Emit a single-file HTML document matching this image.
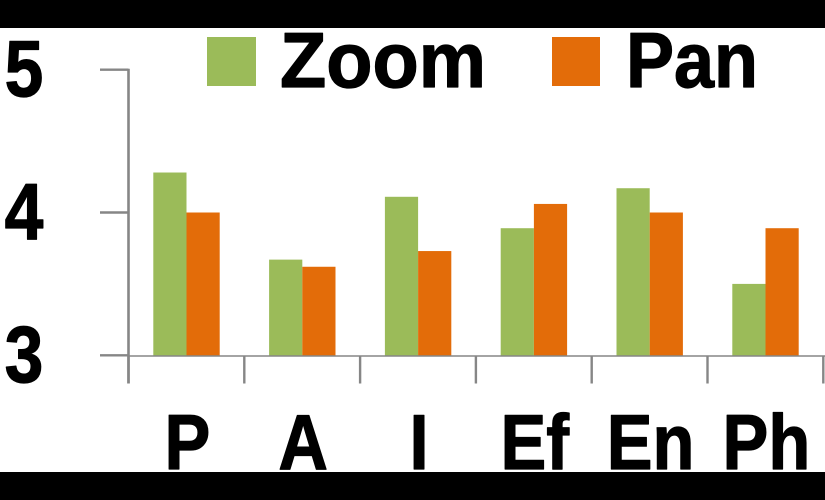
<!DOCTYPE html>
<html>
<head>
<meta charset="utf-8">
<style>
html,body{margin:0;padding:0;background:#fff;}
svg{display:block;}
text{font-family:"Liberation Sans",sans-serif;font-weight:700;fill:#000;stroke:#000;stroke-width:1.2;stroke-linejoin:round;}
</style>
</head>
<body>
<svg id="chart" xmlns="http://www.w3.org/2000/svg" width="825" height="500" viewBox="0 0 825 500">
  <rect x="0" y="0" width="825" height="500" fill="#ffffff"/>
  <rect x="0" y="0" width="825" height="28" fill="#000000"/>
  <rect x="0" y="472" width="825" height="28" fill="#000000"/>
  <g>
    <rect x="207" y="37" width="49" height="49" fill="#9BBB59"/>
    <text x="280" y="87" font-size="78" textLength="206" lengthAdjust="spacingAndGlyphs">Zoom</text>
    <rect x="552" y="37" width="48" height="49" fill="#E36C09"/>
    <text x="626" y="87" font-size="78" textLength="132" lengthAdjust="spacingAndGlyphs">Pan</text>
  </g>
  <g id="bars"></g>
  <g id="axes"></g>
</svg>
<script>
const categories = ['P', 'A', 'I', 'Ef', 'En', 'Ph'];
const zoomValues = [4.28, 3.67, 4.11, 3.89, 4.17, 3.5];
const panValues = [4.0, 3.62, 3.73, 4.06, 4.0, 3.89];
const yTicks = [3, 4, 5];

const NS = 'http://www.w3.org/2000/svg';
const barsLayer = document.getElementById('bars');
const axesLayer = document.getElementById('axes');
const axisColor = '#868686';
const plotLeft = 128.5;
const catWidth = 115.8;
const barWidth = 33.2;
const barOffset = 24.8;
const baseY = 356;

function yScale(v) { return 355.3 - (v - 3) * 142.8; }
function xBand(i) { return plotLeft + i * catWidth; }

function make(tag, attrs) {
  const el = document.createElementNS(NS, tag);
  Object.keys(attrs).forEach(function (k) { el.setAttribute(k, attrs[k]); });
  return el;
}

function drawBar(i, value, seriesIndex, color, seriesName) {
  const top = yScale(value);
  const bar = make('rect', {
    x: xBand(i) + barOffset + seriesIndex * barWidth,
    y: top,
    width: barWidth,
    height: Math.max(0, baseY - top),
    fill: color
  });
  
  
  barsLayer.appendChild(bar);
}

categories.forEach(function (c, i) {
  drawBar(i, zoomValues[i], 0, '#9BBB59', 'zoom');
  drawBar(i, panValues[i], 1, '#E36C09', 'pan');
});

const yAxisLine = make('line', { x1: plotLeft, x2: plotLeft, y1: yScale(5) - 1, y2: 383.5, stroke: axisColor, 'stroke-width': 2.6 });


axesLayer.appendChild(yAxisLine);

const xAxisLine = make('line', { x1: plotLeft, x2: 825, y1: baseY, y2: baseY, stroke: axisColor, 'stroke-width': 1.6 });


axesLayer.appendChild(xAxisLine);

yTicks.forEach(function (t) {
  const y = yScale(t);
  const tick = make('line', { x1: 100, x2: plotLeft, y1: y, y2: y, stroke: axisColor, 'stroke-width': 2.4 });
  
  
  axesLayer.appendChild(tick);

  const label = make('text', { 'font-size': 80, 'text-anchor': 'middle', transform: 'translate(24,' + (y + 26.5) + ') scale(0.87,1)' });
  label.textContent = String(t);
  
  
  axesLayer.appendChild(label);
});

for (let i = 0; i <= categories.length; i++) {
  const tx = Math.min(xBand(i), 823.5);
  const tick = make('line', { x1: tx, x2: tx, y1: baseY, y2: 383.5, stroke: axisColor, 'stroke-width': 2.4 });
  
  
  axesLayer.appendChild(tick);
}

categories.forEach(function (c, i) {
  const cx = xBand(i) + catWidth / 2 + 1;
  const label = make('text', { 'font-size': 78, 'text-anchor': 'middle', transform: 'translate(' + cx + ',469) scale(0.88,1)' });
  label.textContent = c;
  
  
  axesLayer.appendChild(label);
});
</script>
</body>
</html>
